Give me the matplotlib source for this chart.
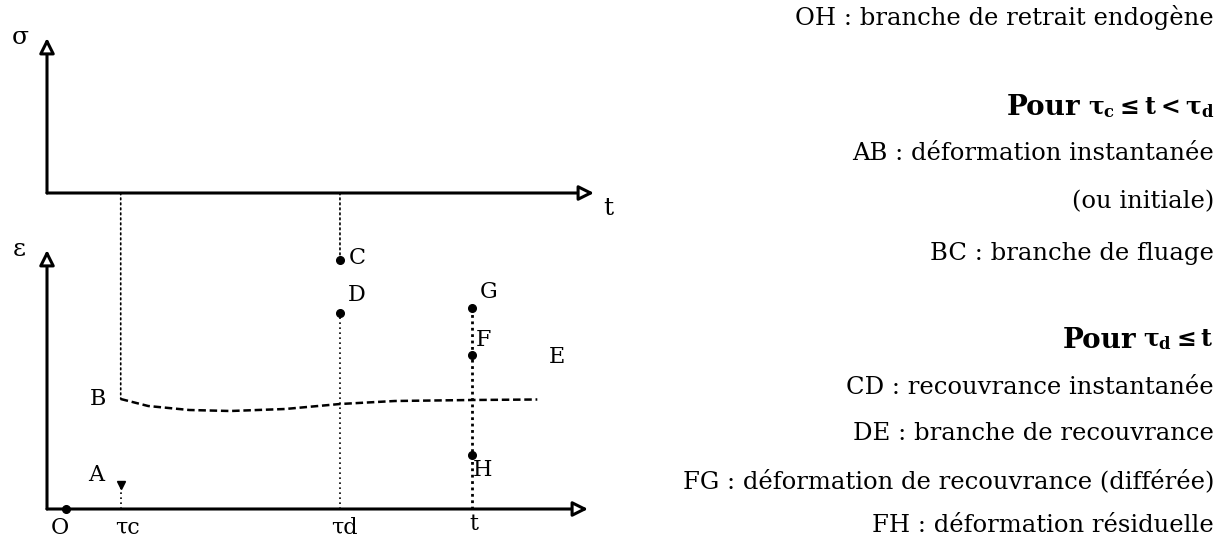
import numpy as np
import matplotlib
matplotlib.use("Agg")
import matplotlib.pyplot as plt
from matplotlib.patches import ConnectionPatch

plt.rcParams.update({
    "font.family": "DejaVu Serif",
    "mathtext.fontset": "custom",
    "mathtext.rm": "DejaVu Serif:bold",
    "mathtext.it": "DejaVu Serif:bold",
    "mathtext.bf": "DejaVu Serif:bold",
})

# ── data (diagram units) ─────────────────────────────────────────
tau_c, tau_d, t_obs = 2.0, 10.0, 14.8
t_O = 0.0
eps_A, eps_B, eps_C, eps_D = 2.4, 11.0, 24.9, 19.6
eps_F, eps_G, eps_H = 15.4, 20.1, 5.4
t_E, eps_E = 17.9, 15.2

# shrinkage branch (dashed)
shr_t = [2.0, 3.0, 4.5, 6.0, 8.0, 10.0, 12.0, 14.8, 17.2]
shr_eps = [11.0, 10.3, 9.9, 9.8, 10.0, 10.5, 10.8, 10.9, 10.95]

# right-hand legend: (text, condition for headings)
legend_lines = [
    ("OH : branche de retrait endogène", None),
    ("Pour", r"$\tau_{c} \leq t < \tau_{d}$"),
    ("AB : déformation instantanée", None),
    ("(ou initiale)", None),
    ("BC : branche de fluage", None),
    ("Pour", r"$\tau_{d} \leq t$"),
    ("CD : recouvrance instantanée", None),
    ("DE : branche de recouvrance", None),
    ("FG : déformation de recouvrance (différée)", None),
    ("FH : déformation résiduelle", None),
]
legend_y = [17, 108, 153, 202, 253, 340, 387, 434, 481, 526]

W, H = 1229, 539
fig = plt.figure(figsize=(W / 100, H / 100), dpi=100)
fig.patch.set_facecolor("white")

# bottom panel (strain)
ax_e = fig.add_axes([47 / W, (H - 509) / H, (588 - 47) / W, (509 - 250) / H])
ax_e.set_xlim(-0.69, 19.05)
ax_e.set_ylim(0, 25.9)
# top panel (stress)
ax_s = fig.add_axes([47 / W, (H - 193) / H, (594 - 47) / W, (193 - 38) / H])
ax_s.set_xlim(-0.69, 19.27)
ax_s.set_ylim(0, 1)

AX = dict(arrowstyle="-|>,head_length=0.9,head_width=0.45", fc="white",
          ec="black", lw=2.2, shrinkA=0, shrinkB=0)
for ax in (ax_e, ax_s):
    ax.axis("off")
    ax.annotate("", xy=(1, 0), xytext=(0, 0), xycoords="axes fraction",
                arrowprops=AX, annotation_clip=False)
    ax.annotate("", xy=(0, 1), xytext=(0, 0), xycoords="axes fraction",
                arrowprops=AX, annotation_clip=False)

ax_s.text(-0.048, 1.0, "σ", transform=ax_s.transAxes, fontsize=18,
          ha="center", va="center")
ax_s.text(1.027, -0.1, "t", transform=ax_s.transAxes, fontsize=18,
          ha="center", va="center")
ax_e.text(-0.052, 1.0, "ε", transform=ax_e.transAxes, fontsize=18,
          ha="center", va="center")

# dotted guides from the stress axis down to the strain panel
for tt, ee in [(tau_c, eps_B), (tau_d, eps_C)]:
    con = ConnectionPatch(xyA=(tt, 0), coordsA=ax_s.transData,
                          xyB=(tt, ee), coordsB=ax_e.transData,
                          color="black", lw=1.2, linestyle=(0, (1, 2)))
    fig.add_artist(con)

dot = dict(ls=(0, (1, 2)), color="black", lw=1.2)
ax_e.plot([tau_c, tau_c], [0, eps_A], **dot)
ax_e.plot([tau_d, tau_d], [0, eps_D], **dot)
ax_e.plot([t_obs, t_obs], [0, eps_G], ls=(0, (1, 1.3)), color="black", lw=2.0)

ax_e.plot(shr_t, shr_eps, ls=(0, (3, 1.5)), color="black", lw=1.8)

pts_t = [t_O, tau_d, tau_d, t_obs, t_obs, t_obs]
pts_e = [0, eps_C, eps_D, eps_G, eps_F, eps_H]
ax_e.plot(pts_t, pts_e, "o", color="black", ms=5.5, clip_on=False)
ax_e.plot([tau_c], [eps_A], "v", color="black", ms=6)

lab = dict(textcoords="offset pixels", fontsize=16, ha="center", va="center")
ax_e.annotate("A", (tau_c, eps_A), xytext=(-25, 10), **lab)
ax_e.annotate("B", (tau_c, eps_B), xytext=(-23, 0), **lab)
ax_e.annotate("C", (tau_d, eps_C), xytext=(17, 2), **lab)
ax_e.annotate("D", (tau_d, eps_D), xytext=(17, 18), **lab)
ax_e.annotate("G", (t_obs, eps_G), xytext=(17, 16), **lab)
ax_e.annotate("F", (t_obs, eps_F), xytext=(12, 15), **lab)
ax_e.annotate("H", (t_obs, eps_H), xytext=(11, -15), **lab)
ax_e.text(t_E, eps_E, "E", fontsize=16, ha="center", va="center")

ax_e.annotate("O", (t_O, 0), xytext=(-6, -19), **lab)
ax_e.annotate("τc", (tau_c, 0), xytext=(7, -19), **lab)
ax_e.annotate("τd", (tau_d, 0), xytext=(4, -19), **lab)
ax_e.annotate("t", (t_obs, 0), xytext=(2, -15), **lab)

# right-hand legend
fig.canvas.draw()
rend = fig.canvas.get_renderer()
x_right = 1214
for (txt, cond), yy in zip(legend_lines, legend_y):
    ypos = 1 - yy / H
    if cond is None:
        fig.text(x_right / W, ypos, txt, ha="right", va="center", fontsize=17.5)
    else:
        m = fig.text(x_right / W, ypos, cond, ha="right", va="center",
                     fontsize=17)
        bb = m.get_window_extent(rend)
        fig.text((bb.x0 - 7) / W, ypos, txt, ha="right", va="center",
                 fontsize=20, fontweight="bold")

fig.savefig("out.png", dpi=100, facecolor="white")
